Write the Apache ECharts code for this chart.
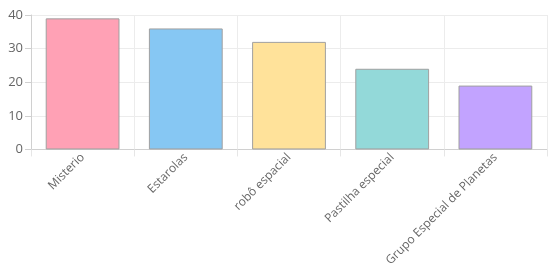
<!DOCTYPE html>
<html><head><meta charset="utf-8">
<script src="https://cdn.jsdelivr.net/npm/echarts@6/dist/echarts.min.js"></script>
<style>html,body{margin:0;padding:0;background:#fff}#c{width:550px;height:269px}</style>
</head><body><div id="c"></div>
<script>
const categories = ["Misterio", "Estarolas", "robô espacial", "Pastilha especial", "Grupo Especial de Planetas"];
const values = [39, 36, 32, 24, 19];
const barColors = ["#ffa1b5", "#86c7f3", "#ffe29a", "#93d9d9", "#c2a3ff"];
const yTicks = [0, 10, 20, 30, 40];

const chart = echarts.init(document.getElementById('c'), null, {renderer: 'canvas'});
const font = '"Open Sans", "Noto Sans", sans-serif';
chart.setOption({
  animation: false,
  grid: {left: 31, right: 3, top: 15, bottom: 119, containLabel: false},
  xAxis: {
    type: 'category',
    data: categories,
    axisLine: {lineStyle: {color: '#d0d0d0'}},
    axisTick: {show: true, length: 7, lineStyle: {color: '#e6e6e6'}},
    splitLine: {show: true, lineStyle: {color: '#ececec'}},
    axisLabel: {rotate: 45, color: '#666', fontFamily: font, fontSize: 12, margin: 6}
  },
  yAxis: {
    type: 'value',
    min: yTicks[0], max: yTicks[yTicks.length - 1], interval: 10,
    axisLine: {show: true, lineStyle: {color: '#d0d0d0'}},
    axisTick: {show: true, length: 6, lineStyle: {color: '#d0d0d0'}},
    splitLine: {show: true, lineStyle: {color: '#ececec'}},
    axisLabel: {color: '#666', fontFamily: font, fontSize: 13, margin: 8}
  },
  series: [{
    type: 'bar',
    barWidth: '71.5%',
    data: values.map((v, i) => ({value: v, itemStyle: {color: barColors[i]}})),
    itemStyle: {borderColor: '#a0a0a0', borderWidth: 1}
  }]
});
</script></body></html>
